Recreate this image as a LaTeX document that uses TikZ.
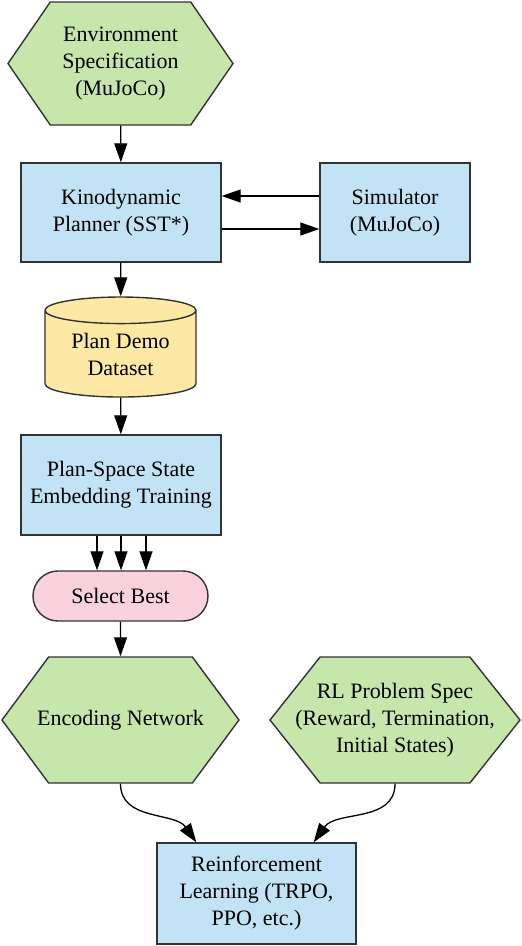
\documentclass[tikz,border=0pt]{standalone}
\usepackage{fontspec}
\setmainfont{Liberation Serif}
\usetikzlibrary{shapes.geometric,shapes.symbols,arrows.meta}
\definecolor{boxblue}{RGB}{193,227,245}
\definecolor{hexgreen}{RGB}{199,230,172}
\definecolor{dbyellow}{RGB}{253,233,164}
\definecolor{selpink}{RGB}{249,210,222}
\definecolor{edgegray}{RGB}{51,51,51}

\begin{document}
\begin{tikzpicture}[x=1pt,y=1pt,
		font=\fontsize{22}{27}\selectfont,
		box/.style={draw=edgegray,line width=1.4pt,fill=boxblue,minimum height=99pt,align=center,inner sep=0pt},
		hexa/.style={draw=edgegray,line width=1.4pt,fill=hexgreen,shape=signal,signal to=east and west,align=center,inner sep=0pt},
		arr/.style={-{Triangle[length=19pt,width=13pt]},line width=1.3pt}]
	\useasboundingbox (0,0) rectangle (522,-946);
	% top part
	\node[hexa,minimum width=225pt,minimum height=123pt,signal pointer angle=111] (env) at (120.5,-63.5) {Environment\\Specification\\(MuJoCo)};
	\node[box,minimum width=200pt] (kino) at (121,-212.5) {Kinodynamic\\Planner (SST*)};
	\node[box,minimum width=150pt] (sim) at (395,-212.5) {Simulator\\(MuJoCo)};
	\node[draw=edgegray,line width=1.4pt,fill=dbyellow,cylinder,shape border rotate=90,aspect=0.27,minimum width=151pt,minimum height=100pt,align=center,inner sep=0pt] (data) at (120.5,-354) {Plan Demo\\Dataset};
	\node[box,minimum width=200pt,minimum height=100pt] (embed) at (121,-485) {Plan-Space State\\Embedding Training};
	\node[draw=edgegray,line width=1.4pt,fill=selpink,rounded corners=25pt,minimum width=175pt,minimum height=50pt,inner sep=0pt] (select) at (120.5,-596) {Select Best};
	% bottom part
	\node[hexa,inner xsep=-12pt,minimum width=237pt,minimum height=126pt,signal pointer angle=107] (enc) at (120.5,-720) {Encoding Network};
	\node[hexa,inner xsep=-25.5pt,minimum width=250pt,minimum height=126pt,signal pointer angle=103] (spec) at (395,-720) {RL Problem Spec\\(Reward, Termination,\\Initial States)};
	\node[box,minimum width=199pt,minimum height=101pt] (rl) at (256.5,-893.5) {Reinforcement\\Learning (TRPO,\\PPO, etc.)};

	\draw[arr] (env) -- (kino);
	\draw[arr] ([yshift=16.5pt]sim.west) -- ([yshift=16.5pt]kino.east);
	\draw[arr] ([yshift=-16.5pt]kino.east) -- ([yshift=-16.5pt]sim.west);
	\draw[arr] (kino) -- (data);
	\draw[arr] (data) -- (embed);
	\foreach \dx in {-24,0,25}
		\draw[arr] ([xshift=\dx pt]embed.south) -- ([xshift=\dx pt]embed.south |- select.north);
	\draw[arr] (select) -- (enc);
	\draw[arr] (enc.south) to[out=-90,in=125] ([xshift=40pt]rl.north west);
	\draw[arr] (spec.south) to[out=-90,in=55] ([xshift=-43pt]rl.north east);
\end{tikzpicture}
\end{document}
